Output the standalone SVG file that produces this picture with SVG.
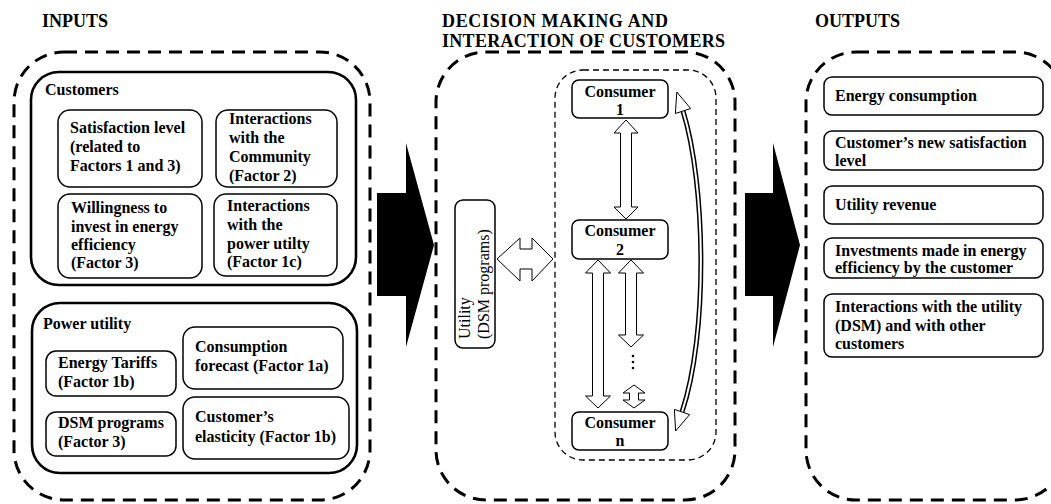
<svg xmlns="http://www.w3.org/2000/svg" width="1051" height="504" viewBox="0 0 1051 504">
<style>
.t{font-family:"Liberation Serif","Times New Roman",serif;font-weight:bold;font-size:16px;fill:#000}
.h{font-family:"Liberation Serif","Times New Roman",serif;font-weight:bold;font-size:18px;fill:#000}
.r{font-family:"Liberation Serif","Times New Roman",serif;font-size:16px;fill:#000}
.outer{fill:none;stroke:#000;stroke-width:3;stroke-dasharray:13 8}
.inner{fill:none;stroke:#000;stroke-width:1.3;stroke-dasharray:6 4}
.grp{fill:none;stroke:#000;stroke-width:2.6}
.box{fill:#fff;stroke:#000;stroke-width:1.5}
.ha{fill:#fff;stroke:#000;stroke-width:1}
.big{fill:#000}
.c{text-anchor:middle}
</style>
<rect width="1051" height="504" fill="#fff"/>
<g id="titles">
<text class="h" x="42" y="27">INPUTS</text>
<text class="h" x="442" y="27" textLength="226" lengthAdjust="spacing">DECISION MAKING AND</text>
<text class="h" x="442" y="47" textLength="283" lengthAdjust="spacing">INTERACTION OF CUSTOMERS</text>
<text class="h" x="815" y="27">OUTPUTS</text>
</g>
<g id="inputs">
<rect class="outer" x="14" y="52" width="356" height="448" rx="50"/>
<g id="customers">
<rect class="grp" x="31" y="72" width="325" height="213" rx="28"/>
<text class="t" x="45" y="95">Customers</text>
<g id="satisfaction"><rect class="box" x="58" y="110" width="144" height="77" rx="12"/>
<text class="t" x="70" y="133">Satisfaction level</text><text class="t" x="70" y="152">(related to</text><text class="t" x="70" y="171">Factors 1 and 3)</text></g>
<g id="community"><rect class="box" x="216" y="110" width="121" height="77" rx="12"/>
<text class="t" x="229" y="124">Interactions</text><text class="t" x="229" y="143">with the</text><text class="t" x="229" y="162">Community</text><text class="t" x="229" y="181">(Factor 2)</text></g>
<g id="willingness"><rect class="box" x="58" y="194" width="144" height="84" rx="12"/>
<text class="t" x="71" y="213">Willingness to</text><text class="t" x="71" y="232">invest in energy</text><text class="t" x="71" y="250">efficiency</text><text class="t" x="71" y="268">(Factor 3)</text></g>
<g id="interactions-utility"><rect class="box" x="214" y="194" width="123" height="82" rx="12"/>
<text class="t" x="227" y="211">Interactions</text><text class="t" x="227" y="230">with the</text><text class="t" x="227" y="249">power utilty</text><text class="t" x="227" y="267">(Factor 1c)</text></g>
</g>
<g id="power-utility">
<rect class="grp" x="32" y="303" width="325" height="170" rx="28"/>
<text class="t" x="43" y="329">Power utility</text>
<g id="tariffs"><rect class="box" x="46" y="351" width="130" height="45" rx="10"/>
<text class="t" x="58" y="368">Energy Tariffs</text><text class="t" x="58" y="387">(Factor 1b)</text></g>
<g id="forecast"><rect class="box" x="183" y="327" width="160" height="62" rx="12"/>
<text class="t" x="195" y="352">Consumption</text><text class="t" x="195" y="371">forecast (Factor 1a)</text></g>
<g id="dsm"><rect class="box" x="46" y="412" width="130" height="44" rx="10"/>
<text class="t" x="58" y="428">DSM programs</text><text class="t" x="58" y="447">(Factor 3)</text></g>
<g id="elasticity"><rect class="box" x="183" y="397" width="166" height="62" rx="12"/>
<text class="t" x="195" y="422">Customer’s</text><text class="t" x="195" y="442">elasticity (Factor 1b)</text></g>
</g>
</g>
<g id="decision">
<rect class="outer" x="436" y="52" width="299" height="448" rx="50"/>
<rect class="inner" x="555" y="70" width="161" height="390" rx="28"/>
<g id="utility"><rect class="box" x="455" y="200" width="40" height="148" rx="8"/>
<text class="r" transform="translate(470,339) rotate(-90)">Utility</text>
<text class="r" transform="translate(489,339) rotate(-90)">(DSM programs)</text></g>
<g id="consumer1"><rect class="box" x="572" y="80" width="96" height="38" rx="7"/>
<text class="t c" x="620" y="97">Consumer</text><text class="t c" x="620" y="115">1</text></g>
<g id="consumer2"><rect class="box" x="572" y="220" width="96" height="39" rx="7"/>
<text class="t c" x="620" y="236">Consumer</text><text class="t c" x="620" y="255">2</text></g>
<g id="consumern"><rect class="box" x="572" y="412" width="96" height="38" rx="7"/>
<text class="t c" x="620" y="428">Consumer</text><text class="t c" x="620" y="446">n</text></g>
</g>
<g id="outputs">
<rect class="outer" x="806" y="52" width="259" height="448" rx="50"/>
<g id="out1"><rect class="box" x="824" y="77" width="219" height="38" rx="8"/><text class="t" x="835" y="101">Energy consumption</text></g>
<g id="out2"><rect class="box" x="824" y="131" width="219" height="39" rx="8"/><text class="t" x="835" y="148">Customer’s new satisfaction</text><text class="t" x="835" y="166">level</text></g>
<g id="out3"><rect class="box" x="824" y="186" width="219" height="38" rx="8"/><text class="t" x="835" y="210">Utility revenue</text></g>
<g id="out4"><rect class="box" x="824" y="238" width="219" height="40" rx="8"/><text class="t" x="835" y="256">Investments made in energy</text><text class="t" x="835" y="273">efficiency by the customer</text></g>
<g id="out5"><rect class="box" x="824" y="294" width="219" height="63" rx="8"/><text class="t" x="835" y="312">Interactions with the utility</text><text class="t" x="835" y="331">(DSM) and with other</text><text class="t" x="835" y="349">customers</text></g>
</g>
<g id="connectors">
<polygon class="big" points="377,193 406,193 406,143 434,245 406,347 406,296 377,296"/>
<polygon class="big" points="745,193 773,193 773,143 800,245 773,347 773,296 745,296"/>
<polygon class="ha" points="497,259 520,238 520,249 532,249 532,238 553,259 532,281 532,269 520,269 520,281"/>
<polygon class="ha" points="626,120 638,133 631.5,133 631.5,207 638,207 626,219 614,207 620.5,207 620.5,133 614,133"/>
<polygon class="ha" points="598,260 610.5,273 603.5,273 603.5,396 610.5,396 598,408 585.5,396 592.5,396 592.5,273 585.5,273"/>
<polygon class="ha" points="631,260 643.5,273 636.5,273 636.5,335 643.5,335 631,347 618.5,335 625.5,335 625.5,273 618.5,273"/>
<polygon class="ha" points="634,385 645,393 638.5,393 638.5,400 645,400 634,408 623,400 629.5,400 629.5,393 623,393"/>
<circle cx="633" cy="356" r="1.3"/><circle cx="633" cy="362" r="1.3"/><circle cx="633" cy="368" r="1.3"/>
<path d="M683 111 C706 185 708 335 682 412" fill="none" stroke="#000" stroke-width="5"/>
<path d="M683 111 C706 185 708 335 682 412" fill="none" stroke="#fff" stroke-width="2"/>
<polygon class="ha" stroke-width="1.4" points="676.8,92 690.6,108.5 675.4,113.5"/>
<polygon class="ha" stroke-width="1.4" points="675.6,431 689.6,414.6 674.4,409.4"/>
</g>
</svg>
